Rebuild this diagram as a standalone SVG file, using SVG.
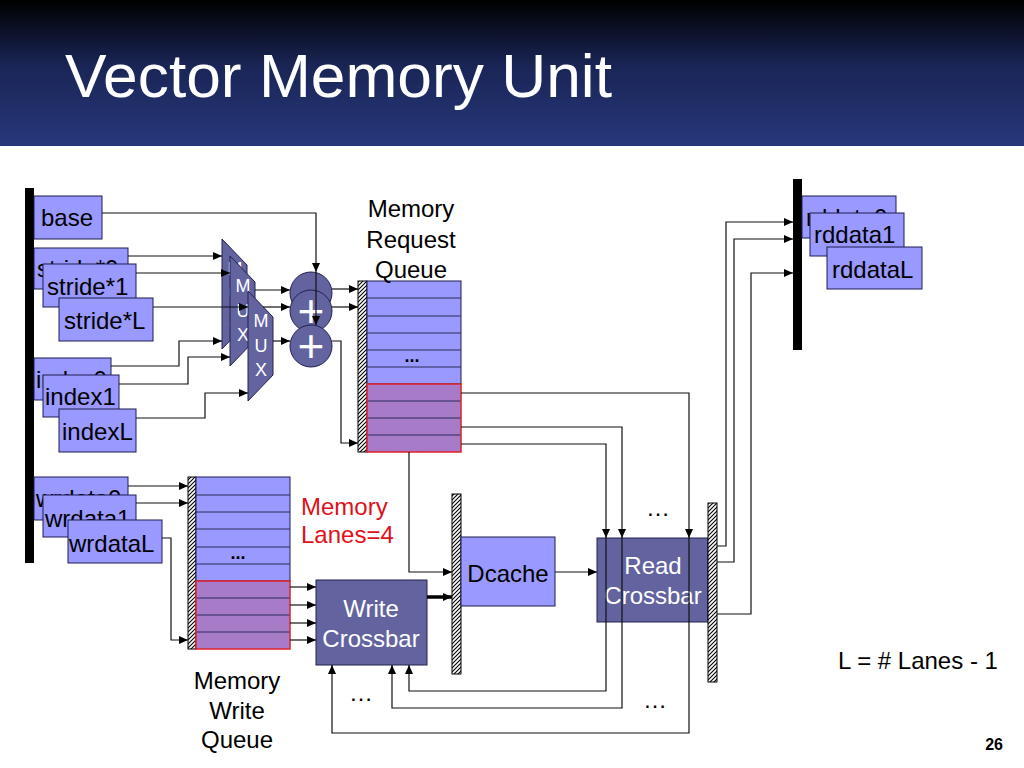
<svg xmlns="http://www.w3.org/2000/svg" width="1024" height="768" viewBox="0 0 1024 768">
<defs>
<linearGradient id="tg" x1="0" y1="0" x2="0" y2="1">
<stop offset="0" stop-color="#000000"/>
<stop offset="0.45" stop-color="#1a2556"/>
<stop offset="1" stop-color="#27377a"/>
</linearGradient>
<pattern id="hatch" patternUnits="userSpaceOnUse" width="4" height="4">
<rect width="4" height="4" fill="#fff"/>
<path d="M-1,1 l2,-2 M0,4 l4,-4 M3,5 l2,-2" stroke="#000" stroke-width="1.1"/>
</pattern>
<marker id="ah" markerUnits="userSpaceOnUse" markerWidth="9" markerHeight="8" refX="9" refY="4" orient="auto">
<path d="M0,0 L9,4 L0,8 z" fill="#000"/>
</marker>
<style>
.lb{fill:#9999ff;stroke:#1c1c50;stroke-width:1}
.dk{fill:#63639f;stroke:#22224f;stroke-width:1}
.pu{fill:#a87bc8}
.latch{fill:url(#hatch);stroke:#000;stroke-width:1}
.row{stroke:#2a2a5a;stroke-width:1;fill:none}
.red{fill:none;stroke:#e0202a;stroke-width:1.5}
.t{font-family:"Liberation Sans",Arial,sans-serif;font-size:24px;fill:#000}
.tw{font-family:"Liberation Sans",Arial,sans-serif;font-size:24px;fill:#fff}
.tm{font-family:"Liberation Sans",Arial,sans-serif;font-size:18px;fill:#fff;text-anchor:middle}
.c{text-anchor:middle}
.cn{fill:none;stroke:#111;stroke-width:1.2}
.ar{marker-end:url(#ah)}
</style>
</defs>
<rect x="0" y="0" width="1024" height="768" fill="#fff"/>
<rect x="0" y="0" width="1024" height="146" fill="url(#tg)"/>
<text x="65" y="97" font-family="Liberation Sans, Arial, sans-serif" font-size="62" fill="#fff" textLength="547" lengthAdjust="spacingAndGlyphs">Vector Memory Unit</text>

<g id="left-bus"><rect x="25" y="188" width="9" height="375" fill="#000"/></g>
<g id="right-bus"><rect x="793" y="179" width="9" height="171" fill="#000"/></g>

<g id="base"><rect class="lb" x="34" y="196" width="68" height="43"/><text class="t" x="41" y="226">base</text></g>
<g id="stride0"><rect class="lb" x="34" y="248" width="94" height="41"/><text class="t" x="37" y="277">stride*0</text></g>
<g id="stride1"><rect class="lb" x="43" y="264" width="93" height="43"/><text class="t" x="47" y="295">stride*1</text></g>
<g id="strideL"><rect class="lb" x="59" y="298" width="94" height="43"/><text class="t" x="64" y="329">stride*L</text></g>
<g id="index0"><rect class="lb" x="34" y="358" width="77" height="42"/><text class="t" x="36" y="388">index0</text></g>
<g id="index1"><rect class="lb" x="43" y="375" width="76" height="42"/><text class="t" x="45" y="405">index1</text></g>
<g id="indexL"><rect class="lb" x="59" y="409" width="77" height="43"/><text class="t" x="62" y="440">indexL</text></g>
<g id="wrdata0"><rect class="lb" x="34" y="477" width="94" height="43"/><text class="t" x="36" y="507">wrdata0</text></g>
<g id="wrdata1"><rect class="lb" x="43" y="495" width="93" height="42"/><text class="t" x="45" y="527">wrdata1</text></g>
<g id="wrdataL"><rect class="lb" x="68" y="520" width="94" height="43"/><text class="t" x="69" y="552">wrdataL</text></g>
<g id="rddata0"><rect class="lb" x="802" y="196" width="94" height="42"/><text class="t" x="806" y="226">rddata0</text></g>
<g id="rddata1"><rect class="lb" x="810" y="213" width="94" height="43"/><text class="t" x="814" y="243">rddata1</text></g>
<g id="rddataL"><rect class="lb" x="827" y="247" width="95" height="42"/><text class="t" x="832" y="278">rddataL</text></g>

<g id="mux1"><polygon class="dk" points="222,239 247,265 247,323 222,349"/><text class="tm" x="235" y="275">M</text><text class="tm" x="235" y="300">U</text><text class="tm" x="235" y="324">X</text></g>
<g id="mux2"><polygon class="dk" points="230,256 255,282 255,340 230,366"/><text class="tm" x="243" y="292">M</text><text class="tm" x="243" y="317">U</text><text class="tm" x="243" y="341">X</text></g>
<g id="mux3"><polygon class="dk" points="248,291 273,317 273,375 248,401"/><text class="tm" x="261" y="327">M</text><text class="tm" x="261" y="352">U</text><text class="tm" x="261" y="376">X</text></g>

<g id="adder1"><circle class="dk" cx="311" cy="293" r="21"/><text class="tw c" x="311" y="309" font-size="46">+</text></g>
<g id="adder2"><circle class="dk" cx="311" cy="311" r="21"/><text class="tw c" x="311" y="327" style="font-size:46px">+</text></g>
<g id="adder3"><circle class="dk" cx="311" cy="346" r="21"/><text class="tw c" x="311" y="362" style="font-size:46px">+</text></g>

<g id="request-queue">
<rect class="latch" x="358" y="281" width="9" height="171"/>
<rect class="lb" x="367" y="281" width="94" height="103"/>
<rect class="pu" x="367" y="384" width="94" height="68"/>
<path class="row" d="M367,298H461M367,316H461M367,333H461M367,350H461M367,367H461M367,401H461M367,418H461M367,435H461"/>
<rect class="red" x="367" y="384" width="94" height="68"/>
<text class="t c" x="412" y="362" style="font-size:18px;font-weight:bold">...</text>
<text class="t c" x="411" y="217">Memory</text>
<text class="t c" x="411" y="248">Request</text>
<text class="t c" x="411" y="278">Queue</text>
</g>

<g id="write-queue">
<rect class="latch" x="188" y="477" width="8" height="172"/>
<rect class="lb" x="196" y="477" width="94" height="104"/>
<rect class="pu" x="196" y="581" width="94" height="68"/>
<path class="row" d="M196,495H290M196,512H290M196,529H290M196,547H290M196,564H290M196,598H290M196,615H290M196,632H290"/>
<rect class="red" x="196" y="581" width="94" height="68"/>
<text class="t c" x="238" y="559" style="font-size:18px;font-weight:bold">...</text>
<text class="t c" x="237" y="689">Memory</text>
<text class="t c" x="237" y="719">Write</text>
<text class="t c" x="237" y="748">Queue</text>
</g>

<g id="lanes-label"><text class="t" x="301" y="515" fill="#e0101a" style="fill:#e0101a">Memory</text><text class="t" x="301" y="543" style="fill:#e0101a">Lanes=4</text></g>

<g id="write-crossbar"><rect class="dk" x="316" y="580" width="111" height="85"/><text class="tw c" x="371" y="617">Write</text><text class="tw c" x="371" y="647">Crossbar</text></g>
<g id="dcache-latch"><rect class="latch" x="452" y="494" width="9" height="180"/></g>
<g id="dcache"><rect class="lb" x="461" y="537" width="94" height="69"/><text class="t c" x="508" y="582">Dcache</text></g>
<g id="read-crossbar"><rect class="dk" x="597" y="538" width="111" height="84"/><text class="tw c" x="653" y="574">Read</text><text class="tw c" x="653" y="604">Crossbar</text></g>
<g id="read-latch"><rect class="latch" x="708" y="503" width="9" height="179"/></g>

<g id="connectors">
<path class="cn ar" d="M102,213H316V272"/>
<path class="cn ar" d="M316,272V325"/>
<path class="cn ar" d="M128,256H222"/>
<path class="cn ar" d="M136,273H230"/>
<path class="cn ar" d="M153,307H248"/>
<path class="cn ar" d="M111,366H179V341H222"/>
<path class="cn ar" d="M119,384H188V357H230"/>
<path class="cn ar" d="M136,418H205V393H248"/>
<path class="cn ar" d="M255,290H290"/>
<path class="cn ar" d="M263,307H290"/>
<path class="cn ar" d="M273,341H290"/>
<path class="cn ar" d="M332,289H358"/>
<path class="cn ar" d="M332,307H358"/>
<path class="cn ar" d="M332,341H341V443H358"/>
<path class="cn ar" d="M128,486H188"/>
<path class="cn ar" d="M136,503H188"/>
<path class="cn ar" d="M162,538H171V640H188"/>
<path class="cn ar" d="M290,587H316"/>
<path class="cn ar" d="M290,605H316"/>
<path class="cn ar" d="M290,623H316"/>
<path class="cn ar" d="M290,640H316"/>
<path class="ar" d="M427,597H452" fill="none" stroke="#000" stroke-width="3.5"/>
<path class="cn ar" d="M409,452V572H452"/>
<path class="cn ar" d="M555,572H597"/>
<path class="cn ar" d="M461,393H689V538"/>
<path class="cn ar" d="M461,427H622V538"/>
<path class="cn ar" d="M461,444H606V538"/>
<path class="cn ar" d="M606,538V691H409V665"/>
<path class="cn ar" d="M622,538V708H392V665"/>
<path class="cn ar" d="M689,538V733H332V665"/>
<path class="cn ar" d="M717,546H726V222H793"/>
<path class="cn ar" d="M717,562H734V239H793"/>
<path class="cn ar" d="M717,614H751V273H793"/>
</g>

<g id="labels">
<text class="t c" x="658" y="516">…</text>
<text class="t c" x="361" y="701">…</text>
<text class="t c" x="655" y="708">…</text>
<text class="t" x="838" y="669">L = # Lanes - 1</text>
<text x="1003" y="750" text-anchor="end" font-family="Liberation Sans, Arial, sans-serif" font-size="16" font-weight="bold" fill="#000">26</text>
</g>
</svg>
